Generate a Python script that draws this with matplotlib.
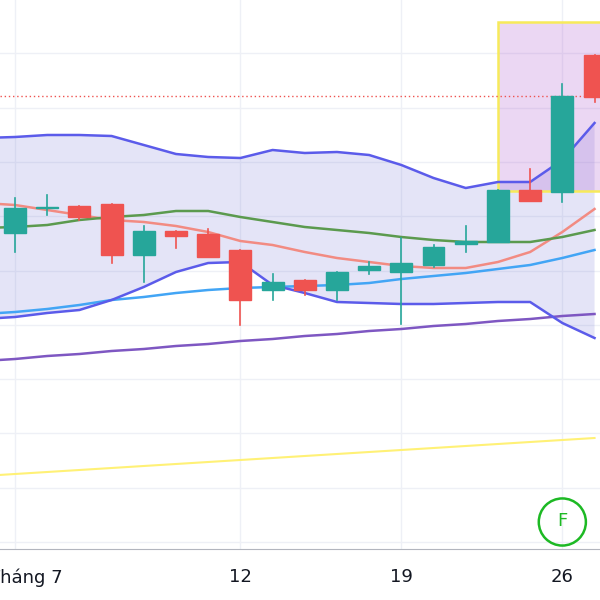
import matplotlib
matplotlib.use("Agg")
import matplotlib.pyplot as plt
from matplotlib.patches import Rectangle
import numpy as np

# price scale: 600 - pixel row (arbitrary units)
opens  = [367,392,394,396,345,369,366,350,310,320,310,330,328,335,356,358,410,408,545]
highs  = [402,405,394,396,374,369,371,350,326,320,328,338,362,355,374,410,431,516,545]
lows   = [348,385,380,337,318,352,343,275,300,305,300,326,276,333,348,358,399,398,498]
closes = [392,392,383,345,369,364,343,300,318,310,328,334,337,353,359,410,399,504,503]
# indicator series start one session earlier (index -1)
bb_up  = [462,463,465,465,464,455,446,443,442,450,447,448,445,435,422,412,418,418,440,477]
bb_lo  = [281,283,287,290,300,313,328,337,338,315,307,298,297,296,296,297,298,298,277,262]
bb_mid = [372,373,375,380,383,385,389,389,383,378,373,370,367,363,360,358,358,358,363,370]
ma_s   = [397,395,390,385,380,378,374,368,359,355,348,342,338,334,332,332,338,348,368,391]
ma_m   = [286,288,291,295,300,303,307,310,312,313,314,315,317,321,324,327,331,335,342,350]
ma_l   = [239,241,244,246,249,251,254,256,259,261,264,266,269,271,274,276,279,281,284,286]
ma_xl  = [124,126,128,130,132,134,136,138,140,142,144,146,148,150,152,154,156,158,160,162]
tick_idx = [0,7,12,17]
tick_lbl = ["Tháng 7","12","19","26"]
ref_level = 504

plt.rcParams['font.family'] = ['DejaVu Sans']
fig = plt.figure(figsize=(6,6), dpi=100)
ax = fig.add_axes([0, 51/600, 1, 549/600])
x = np.arange(len(opens))
xi = np.arange(-1, len(opens))
ax.set_xlim(-0.466, 18.17)
ax.set_ylim(51, 600)

for yv in np.arange(58, 600, 54.3):
    ax.axhline(yv, color='#eef0f6', lw=1, zorder=0)
for t in tick_idx:
    ax.axvline(t, color='#eef0f6', lw=1, zorder=0)

ax.fill_between(xi, bb_lo, bb_up, color='#5b5bd0', alpha=0.16, lw=0, zorder=1)
ax.add_patch(Rectangle((15, 409), 3.6, 169, facecolor='#b060d0', alpha=0.25,
                       edgecolor='none', zorder=1))
ax.add_patch(Rectangle((15, 409), 3.6, 169, fill=False,
                       edgecolor='#f7ea5a', lw=1.8, zorder=2))
ax.axhline(ref_level, color='#ef5350', lw=1, ls=(0,(1,2)), zorder=2)

ax.plot(xi, ma_xl, color='#fff176', lw=1.5, zorder=3)
ax.plot(xi, ma_l, color='#7e57c2', lw=1.8, zorder=3)
ax.plot(xi, ma_m, color='#42a5f5', lw=1.8, zorder=3)
ax.plot(xi, ma_s, color='#f28b82', lw=1.8, zorder=3)
ax.plot(xi, bb_mid, color='#5b9a4e', lw=1.8, zorder=3)
ax.plot(xi, bb_up, color='#5b5bea', lw=1.8, zorder=3)
ax.plot(xi, bb_lo, color='#5b5bea', lw=1.8, zorder=3)

w = 0.68
for i in range(len(opens)):
    o, h, l, c = opens[i], highs[i], lows[i], closes[i]
    col = '#26a69a' if c >= o else '#ef5350'
    ax.plot([i, i], [l, h], color=col, lw=1.2, zorder=4)
    b = max(abs(c - o), 1.5)
    ax.add_patch(Rectangle((i - w/2, min(o, c)), w, b, color=col, zorder=5))

ax.scatter([17], [78], s=1150, facecolors='none', edgecolors='#1db924', linewidths=1.8, zorder=6)
ax.text(17, 79, "F", color='#1db924', fontsize=13, ha='center', va='center', zorder=6)

for s in ['top','left','right']:
    ax.spines[s].set_visible(False)
ax.spines['bottom'].set_color('#b2b5be')
ax.set_yticks([])
ax.set_xticks(tick_idx)
ax.set_xticklabels([""] + tick_lbl[1:], fontsize=13, color='#131722')
ax.tick_params(axis='x', length=0, pad=14)
ax.text(0.35, -29/549, tick_lbl[0], transform=ax.get_xaxis_transform(),
        fontsize=13, color='#131722', ha='center', va='center')
fig.savefig("out.png", dpi=100)
